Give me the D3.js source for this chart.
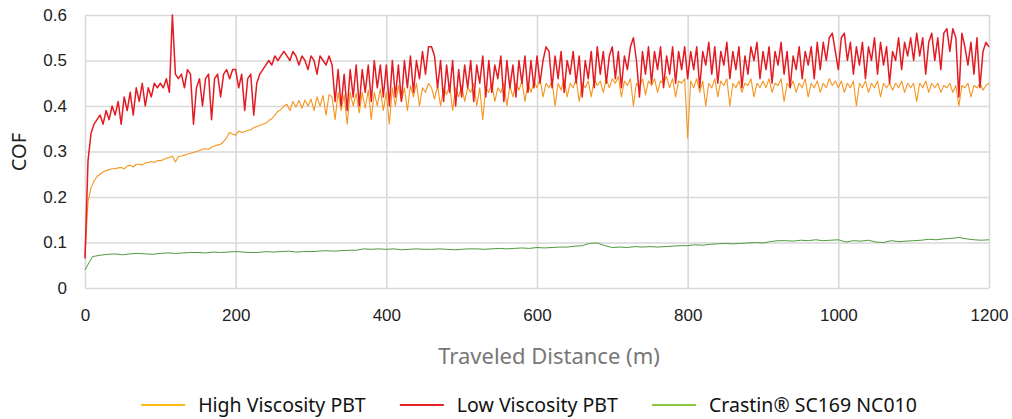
<!DOCTYPE html>
<html>
<head>
<meta charset="utf-8">
<script src="https://cdn.jsdelivr.net/npm/d3@7"></script>
<style>
  body { margin: 0; background: #fff; }
  svg { display: block; font-family: "Noto Sans", "Open Sans", sans-serif; }
</style>
</head>
<body>
<svg id="chart" width="1012" height="419"></svg>
<script>
// sampling step of the COF traces (m)
const step = 4;
const greenStep = 10;

const seriesNames = ['High Viscosity PBT', 'Low Viscosity PBT', 'Crastin\u00AE SC169 NC010'];

const highViscosity = [
  0.07, 0.19, 0.22, 0.235, 0.245, 0.25, 0.255, 0.258, 0.26, 0.262, 0.262, 0.264, 0.265, 0.262, 0.268, 0.27, 0.266, 0.272, 0.272, 0.27, 0.275, 0.276, 0.278, 0.276, 0.28,
  0.28, 0.282, 0.285, 0.287, 0.29, 0.277, 0.289, 0.29, 0.292, 0.294, 0.296, 0.298, 0.30, 0.302, 0.305, 0.306, 0.305, 0.31, 0.312, 0.314, 0.316, 0.322, 0.33, 0.342, 0.338,
  0.336, 0.345, 0.342, 0.344, 0.346, 0.348, 0.352, 0.355, 0.357, 0.36, 0.362, 0.368, 0.372, 0.38, 0.388, 0.392, 0.40, 0.404, 0.39, 0.41, 0.398, 0.412, 0.395, 0.413, 0.40,
  0.415, 0.39, 0.42, 0.40, 0.423, 0.38, 0.425, 0.42, 0.37, 0.43, 0.39, 0.425, 0.36, 0.43, 0.40, 0.428, 0.385, 0.43, 0.395, 0.435, 0.37, 0.43, 0.40, 0.438, 0.39,
  0.43, 0.36, 0.44, 0.40, 0.445, 0.41, 0.44, 0.39, 0.445, 0.42, 0.45, 0.40, 0.44, 0.43, 0.45, 0.44, 0.415, 0.445, 0.40, 0.44, 0.425, 0.445, 0.39, 0.44, 0.42,
  0.445, 0.41, 0.44, 0.43, 0.45, 0.40, 0.44, 0.37, 0.44, 0.43, 0.45, 0.41, 0.44, 0.43, 0.45, 0.40, 0.445, 0.42, 0.45, 0.435, 0.455, 0.41, 0.45, 0.43, 0.455,
  0.44, 0.46, 0.42, 0.45, 0.44, 0.455, 0.40, 0.45, 0.435, 0.46, 0.42, 0.45, 0.44, 0.46, 0.41, 0.45, 0.44, 0.455, 0.42, 0.46, 0.445, 0.455, 0.43, 0.46, 0.44,
  0.46, 0.45, 0.465, 0.42, 0.455, 0.445, 0.46, 0.40, 0.45, 0.44, 0.46, 0.425, 0.455, 0.445, 0.46, 0.43, 0.455, 0.45, 0.465, 0.44, 0.46, 0.42, 0.455, 0.45, 0.46,
  0.33, 0.455, 0.44, 0.46, 0.43, 0.455, 0.40, 0.45, 0.44, 0.46, 0.42, 0.455, 0.445, 0.46, 0.40, 0.45, 0.44, 0.455, 0.43, 0.45, 0.445, 0.46, 0.42, 0.45, 0.44,
  0.455, 0.44, 0.46, 0.43, 0.45, 0.445, 0.46, 0.41, 0.45, 0.44, 0.455, 0.43, 0.45, 0.44, 0.46, 0.42, 0.45, 0.44, 0.455, 0.43, 0.45, 0.44, 0.46, 0.445, 0.455,
  0.44, 0.455, 0.43, 0.45, 0.44, 0.455, 0.40, 0.45, 0.44, 0.455, 0.43, 0.45, 0.44, 0.455, 0.42, 0.45, 0.44, 0.45, 0.435, 0.45, 0.44, 0.455, 0.43, 0.45, 0.44,
  0.45, 0.41, 0.45, 0.44, 0.455, 0.43, 0.45, 0.44, 0.45, 0.43, 0.445, 0.44, 0.45, 0.43, 0.445, 0.40, 0.445, 0.44, 0.45, 0.42, 0.445, 0.44, 0.45, 0.435, 0.445, 0.45
];

const lowViscosity = [
  0.065, 0.28, 0.34, 0.36, 0.37, 0.38, 0.36, 0.39, 0.37, 0.40, 0.38, 0.41, 0.36, 0.42, 0.39, 0.43, 0.38, 0.44, 0.41, 0.45, 0.40, 0.44, 0.42, 0.45, 0.44,
  0.45, 0.44, 0.46, 0.43, 0.60, 0.47, 0.46, 0.47, 0.44, 0.48, 0.47, 0.36, 0.44, 0.46, 0.40, 0.46, 0.47, 0.37, 0.46, 0.47, 0.42, 0.47, 0.48, 0.46, 0.48,
  0.48, 0.44, 0.47, 0.39, 0.46, 0.47, 0.38, 0.45, 0.47, 0.48, 0.49, 0.50, 0.49, 0.51, 0.50, 0.51, 0.52, 0.51, 0.50, 0.52, 0.51, 0.49, 0.51, 0.50, 0.48,
  0.51, 0.50, 0.47, 0.51, 0.50, 0.49, 0.51, 0.49, 0.41, 0.48, 0.40, 0.47, 0.39, 0.48, 0.42, 0.49, 0.40, 0.48, 0.43, 0.49, 0.41, 0.50, 0.44, 0.49, 0.42,
  0.49, 0.40, 0.50, 0.42, 0.49, 0.41, 0.50, 0.44, 0.51, 0.43, 0.50, 0.46, 0.52, 0.47, 0.53, 0.53, 0.51, 0.44, 0.50, 0.41, 0.49, 0.43, 0.50, 0.40, 0.48,
  0.42, 0.49, 0.44, 0.50, 0.41, 0.49, 0.45, 0.51, 0.42, 0.50, 0.43, 0.49, 0.46, 0.51, 0.41, 0.50, 0.44, 0.49, 0.42, 0.50, 0.45, 0.51, 0.43, 0.50, 0.44,
  0.51, 0.45, 0.50, 0.53, 0.52, 0.44, 0.51, 0.46, 0.52, 0.43, 0.50, 0.47, 0.52, 0.45, 0.51, 0.42, 0.50, 0.46, 0.52, 0.44, 0.53, 0.47, 0.52, 0.45, 0.51,
  0.53, 0.46, 0.52, 0.44, 0.51, 0.48, 0.53, 0.55, 0.50, 0.42, 0.52, 0.47, 0.53, 0.45, 0.52, 0.48, 0.53, 0.44, 0.51, 0.47, 0.53, 0.45, 0.52, 0.48, 0.53,
  0.46, 0.52, 0.48, 0.53, 0.44, 0.52, 0.49, 0.54, 0.47, 0.53, 0.45, 0.52, 0.49, 0.54, 0.46, 0.52, 0.48, 0.53, 0.44, 0.51, 0.47, 0.53, 0.50, 0.54, 0.46,
  0.52, 0.48, 0.53, 0.45, 0.52, 0.49, 0.54, 0.47, 0.52, 0.44, 0.51, 0.48, 0.53, 0.46, 0.52, 0.49, 0.53, 0.46, 0.54, 0.48, 0.54, 0.50, 0.55, 0.56, 0.52,
  0.48, 0.55, 0.56, 0.50, 0.54, 0.47, 0.53, 0.49, 0.54, 0.46, 0.53, 0.50, 0.55, 0.47, 0.54, 0.49, 0.53, 0.45, 0.52, 0.50, 0.55, 0.48, 0.54, 0.51, 0.55,
  0.50, 0.56, 0.51, 0.55, 0.47, 0.54, 0.56, 0.50, 0.55, 0.48, 0.56, 0.57, 0.52, 0.57, 0.55, 0.42, 0.56, 0.53, 0.49, 0.54, 0.47, 0.55, 0.44, 0.52, 0.54, 0.53
];

const crastin = [
  0.040, 0.069, 0.072, 0.074, 0.075, 0.073, 0.075, 0.076, 0.075, 0.074,
  0.076, 0.077, 0.076, 0.077, 0.078, 0.078, 0.077, 0.079, 0.078, 0.079,
  0.080, 0.079, 0.078, 0.078, 0.080, 0.079, 0.080, 0.081, 0.079, 0.080,
  0.080, 0.081, 0.082, 0.081, 0.082, 0.083, 0.083, 0.086, 0.085, 0.086,
  0.085, 0.086, 0.084, 0.085, 0.086, 0.085, 0.085, 0.086, 0.085, 0.084,
  0.085, 0.086, 0.086, 0.085, 0.086, 0.087, 0.086, 0.087, 0.088, 0.087,
  0.089, 0.088, 0.089, 0.090, 0.090, 0.092, 0.093, 0.098, 0.099, 0.093,
  0.089, 0.090, 0.089, 0.091, 0.090, 0.091, 0.090, 0.091, 0.092, 0.093,
  0.093, 0.095, 0.094, 0.096, 0.097, 0.098, 0.097, 0.098, 0.099, 0.100,
  0.099, 0.102, 0.104, 0.104, 0.103, 0.105, 0.104, 0.106, 0.104, 0.105,
  0.106, 0.101, 0.104, 0.103, 0.105, 0.101, 0.100, 0.104, 0.102, 0.103,
  0.104, 0.105, 0.107, 0.106, 0.108, 0.109, 0.111, 0.108, 0.106, 0.105, 0.106
];

const xTicks = [0, 200, 400, 600, 800, 1000, 1200];
const yTicks = [0, 0.1, 0.2, 0.3, 0.4, 0.5, 0.6];

const lineColors = ['#f7941d', '#e31b23', '#4f9a3c'];
const lineWidths = [1.1, 1.5, 1];
const legendColors = ['#fdb913', '#e52329', '#8dc63f'];

const svg = d3.select('#chart');
const margin = { left: 85, right: 23, top: 15, bottom: 131 };
const width = 1012 - margin.left - margin.right;
const height = 419 - margin.top - margin.bottom;

const x = d3.scaleLinear().domain([0, 1200]).range([0, width]);
const y = d3.scaleLinear().domain([0, 0.6]).range([height, 0]);

const g = svg.append('g').attr('transform', `translate(${margin.left},${margin.top})`);

// grid + axes
const xAxis = g.append('g')
  .attr('transform', `translate(0,${height})`)
  .call(d3.axisBottom(x).tickValues(xTicks).tickSize(-height).tickPadding(21).tickFormat(d3.format('d')));
const yAxis = g.append('g')
  .call(d3.axisLeft(y).tickValues(yTicks).tickSize(-width).tickPadding(18)
    .tickFormat(d => d === 0 ? '0' : d3.format('.1f')(d)));

[xAxis, yAxis].forEach(a => {
  a.select('.domain').remove();
  a.selectAll('.tick line').attr('stroke', '#d9d9d9').attr('stroke-width', 1.6);
  a.selectAll('.tick text').attr('fill', '#222').style('font-size', '17px');
});

// series
const series = [
  { name: seriesNames[0], values: highViscosity, step: step },
  { name: seriesNames[1], values: lowViscosity, step: step },
  { name: seriesNames[2], values: crastin, step: greenStep }
];

const line = d3.line()
  .x(d => x(d[0]))
  .y(d => y(d[1]));

g.append('g').selectAll('path')
  .data(series)
  .join('path')
  .attr('fill', 'none')
  .attr('stroke', (d, i) => lineColors[i])
  .attr('stroke-width', (d, i) => lineWidths[i])
  .attr('stroke-linejoin', 'round')
  .attr('d', d => line(d.values.map((v, i) => [i * d.step, v])));

// axis titles
svg.append('text')
  .attr('transform', 'translate(26,152) rotate(-90)')
  .attr('text-anchor', 'middle')
  .attr('fill', '#222')
  .style('font-size', '20px')
  .text('COF');

svg.append('text')
  .attr('x', 549)
  .attr('y', 364)
  .attr('text-anchor', 'middle')
  .attr('fill', '#777')
  .style('font-size', '22px')
  .text('Traveled Distance (m)');

// legend
const legend = svg.append('g').attr('transform', 'translate(0,405)');
const items = legend.selectAll('g')
  .data(series)
  .join('g');
items.append('line')
  .attr('x1', 0).attr('x2', 44)
  .attr('stroke', (d, i) => legendColors[i])
  .attr('stroke-width', 2);
items.append('text')
  .attr('x', 57)
  .attr('dy', '0.35em')
  .attr('fill', '#111')
  .style('font-size', '19.5px')
  .text(d => d.name);

let cursor = 0;
const offsets = [];
items.each(function () {
  offsets.push(cursor);
  cursor += this.getBBox().width + 34;
});
const total = cursor - 34;
const start = 529 - total / 2;
items.attr('transform', (d, i) => `translate(${start + offsets[i]},0)`);
</script>
</body>
</html>
